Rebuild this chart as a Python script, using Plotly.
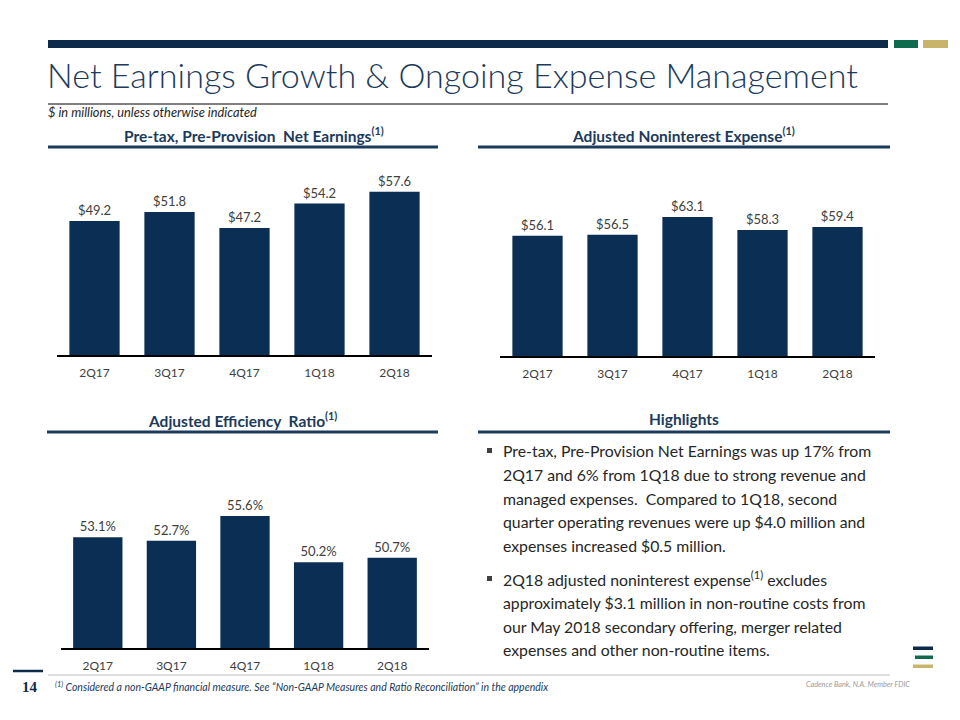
import plotly.graph_objects as go

W, H = 960, 720

quarters = ["2Q17", "3Q17", "4Q17", "1Q18", "2Q18"]
pre_tax_earnings = [49.2, 51.8, 47.2, 54.2, 57.6]
nonint_expense = [56.1, 56.5, 63.1, 58.3, 59.4]
efficiency_ratio = [53.1, 52.7, 55.6, 50.2, 50.7]

title = "Net Earnings Growth & Ongoing Expense Management"
subtitle = "$ in millions, unless otherwise indicated"
panel_titles = ["Pre-tax, Pre-Provision  Net Earnings<sup>(1)</sup>",
                "Adjusted Noninterest Expense<sup>(1)</sup>",
                "Adjusted Efficiency  Ratio<sup>(1)</sup>",
                "Highlights"]
bullet1 = ["Pre-tax, Pre-Provision Net Earnings was up 17% from",
           "2Q17 and 6% from 1Q18 due to strong revenue and",
           "managed expenses.  Compared to 1Q18, second",
           "quarter operating revenues were up $4.0 million and",
           "expenses increased $0.5 million."]
bullet2 = ["2Q18 adjusted noninterest expense<sup>(1)</sup> excludes",
           "approximately $3.1 million in non-routine costs from",
           "our May 2018 secondary offering, merger related",
           "expenses and other non-routine items."]
footnote = "<sup>(1)</sup> Considered a non-GAAP financial measure. See \u201cNon-GAAP Measures and Ratio Reconciliation\u201d in the appendix"
page_no = "14"
disclaimer = "Cadence Bank, N.A. Member FDIC"

NAVY = "#0D2A4A"
BAR = "#0B2E55"
HEAD = "#1B3A5C"
TXT = "#404040"
FONT = "Lato"


def px(x):
    return x / W


def py(y):
    return 1 - y / H


fig = go.Figure()

panels = [
    # values, fmt, xdom(px), y_axis_px, y_top_px, range
    (pre_tax_earnings, "$%{y:.1f}", (57, 432), 355, 160, [10.8, 66.7]),
    (nonint_expense, "$%{y:.1f}", (500, 875), 356, 160, [11.05, 84.5]),
    (efficiency_ratio, "%{y:.1f}%", (61, 429), 648, 450, [40.17, 63.3]),
]

for i, (vals, fmt, (x0, x1), ybot, ytop, rng) in enumerate(panels, start=1):
    sfx = "" if i == 1 else str(i)
    fig.add_trace(go.Bar(
        x=quarters, y=vals, marker=dict(color=BAR, line=dict(width=0)),
        texttemplate=fmt, textposition="outside", cliponaxis=False,
        textfont=dict(size=13, color=TXT, family=FONT),
        xaxis="x" + sfx, yaxis="y" + sfx, showlegend=False, hoverinfo="x+y",
    ))
    fig.layout["xaxis" + sfx] = dict(
        domain=[px(x0), px(x1)], anchor="y" + sfx, showline=True,
        linecolor="#000000", linewidth=1.5, showgrid=False, zeroline=False,
        ticks="outside", ticklen=6, tickcolor="rgba(0,0,0,0)",
        tickfont=dict(size=12, color=TXT, family=FONT), fixedrange=True)
    fig.layout["yaxis" + sfx] = dict(
        domain=[py(ybot), py(ytop)], anchor="x" + sfx, range=rng,
        visible=False, showgrid=False, zeroline=False, fixedrange=True)

fig.update_layout(bargap=0.33)

shapes = []


def rect(x0, y0, x1, y1, color):
    shapes.append(dict(type="rect", xref="paper", yref="paper",
                       x0=px(x0), x1=px(x1), y0=py(y0), y1=py(y1),
                       fillcolor=color, line=dict(width=0), layer="above"))


def hline(x0, x1, y, color, width):
    shapes.append(dict(type="line", xref="paper", yref="paper",
                       x0=px(x0), x1=px(x1), y0=py(y), y1=py(y),
                       line=dict(color=color, width=width)))


# top banner
rect(48, 40, 888, 48, NAVY)
rect(894, 40, 918, 48, "#0E6B4E")
rect(923, 40, 948, 48, "#C9B46C")
# title rule
hline(48, 888, 104, "#000000", 1)
# section rules
hline(48, 438, 147, HEAD, 3)
hline(478, 890, 147, HEAD, 3)
hline(47, 438, 432, HEAD, 3)
hline(478, 890, 432, HEAD, 3)
# footer
hline(13, 43, 671, NAVY, 2.5)
hline(48, 890, 675, "#BFBFBF", 1)
# logo
rect(913, 646.5, 933, 650, NAVY)
rect(915, 655.5, 933, 659, "#0E6B4E")
rect(913, 664.5, 933, 668, "#C9B46C")
# bullets
rect(487, 448, 492, 453, "#404040")
rect(487, 576, 492, 581, "#404040")

annotations = []


def text(x, y, s, size, color, xanchor="left", bold=False, italic=False,
         family=FONT, weight=None):
    if bold:
        s = "<b>" + s + "</b>"
    if italic:
        s = "<i>" + s + "</i>"
    f = dict(size=size, color=color, family=family)
    if weight is not None:
        f["weight"] = weight
    annotations.append(dict(x=px(x), y=py(y), xref="paper", yref="paper",
                            text=s, showarrow=False, xanchor=xanchor,
                            yanchor="middle", align=xanchor if xanchor != "center" else "center",
                            font=f))


text(45, 75, title, 34.1, HEAD, weight=300)
text(46, 112, subtitle, 12.8, "#262626", italic=True)
text(254, 134, panel_titles[0], 15.5, HEAD, "center", bold=True)
text(683, 134, panel_titles[1], 15.5, HEAD, "center", bold=True)
text(242, 419, panel_titles[2], 15.5, HEAD, "center", bold=True)
text(684, 419, panel_titles[3], 15.5, HEAD, "center", bold=True)

for k, line in enumerate(bullet1):
    text(501, 450.5 + k * 23.8, line, 15.8, "#262626")
for k, line in enumerate(bullet2):
    text(501, 578.5 + k * 23.8, line, 15.8, "#262626")

text(30, 687, page_no, 15, NAVY, "center", bold=True, family="Liberation Sans Narrow")
text(53, 686, footnote, 10.5, HEAD, italic=True)
text(912, 684, disclaimer, 7.3, "#9A9A9A", "right", italic=True)

fig.update_layout(
    width=W, height=H, margin=dict(l=0, r=0, t=0, b=0),
    paper_bgcolor="white", plot_bgcolor="white",
    shapes=shapes, annotations=annotations,
    font=dict(family=FONT),
)

fig.write_html("out.html", config={"displayModeBar": False},
               post_script="document.body.style.margin='0';document.body.style.padding='0';")
